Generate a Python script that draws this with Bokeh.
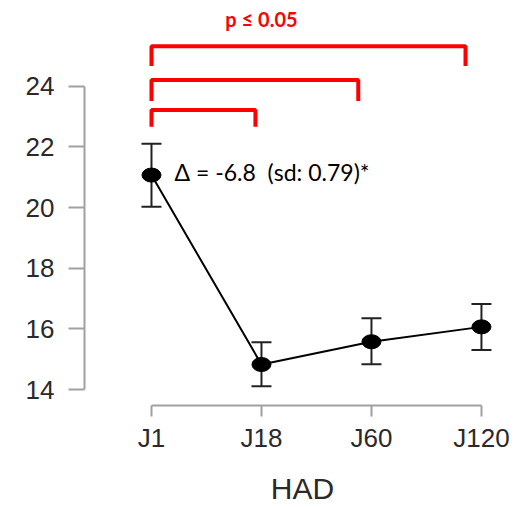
from bokeh.plotting import figure
from bokeh.models import Range1d, ColumnDataSource, Whisker, TeeHead, FixedTicker, Label
from bokeh.embed import file_html
from bokeh.resources import INLINE

# Data
days = ["J1", "J18", "J60", "J120"]
means = [21.07, 14.83, 15.58, 16.07]
lower = [20.03, 14.11, 14.84, 15.31]
upper = [22.10, 15.56, 16.35, 16.82]
y_ticks = [14, 16, 18, 20, 22, 24]
annotation = "Δ = -6.8 \u00a0(sd: 0.79)*"
sig_label = "p ≤ 0.05"
# significance brackets: (start index, end index)
brackets = [(0, 1), (0, 2), (0, 3)]

xpos = list(range(len(days)))
src = ColumnDataSource(dict(x=xpos, y=means, lo=lower, hi=upper))

p = figure(width=520, height=507, output_backend="svg", toolbar_location=None,
           x_range=Range1d(-0.609, 3.355), y_range=Range1d(13.48, 26.82),
           min_border_left=84, min_border_bottom=100, min_border_top=0, min_border_right=0)
p.outline_line_color = None
p.grid.visible = False
p.background_fill_color = "white"
p.border_fill_color = "white"

axis_col = "#a0a0a0"
txt_col = "#2a2a2a"
axis_font = "Liberation Sans"

# x axis
xa = p.xaxis[0]
xa.ticker = FixedTicker(ticks=xpos)
xa.major_label_overrides = {i: d for i, d in enumerate(days)}
xa.bounds = (0, len(days) - 1)
xa.axis_line_color = axis_col
xa.axis_line_width = 2
xa.major_tick_line_color = axis_col
xa.major_tick_line_width = 2
xa.major_tick_out = 11
xa.major_tick_in = 0
xa.minor_tick_line_color = None
xa.major_label_standoff = 6
xa.major_label_text_font = axis_font
xa.major_label_text_font_size = "26px"
xa.major_label_text_color = txt_col
xa.axis_label = "HAD"
xa.axis_label_text_font = axis_font
xa.axis_label_text_font_size = "30px"
xa.axis_label_text_font_style = "normal"
xa.axis_label_text_color = txt_col
xa.axis_label_standoff = 16

# y axis
ya = p.yaxis[0]
ya.ticker = FixedTicker(ticks=y_ticks)
ya.bounds = (min(y_ticks), max(y_ticks))
ya.axis_line_color = axis_col
ya.axis_line_width = 2
ya.major_tick_line_color = axis_col
ya.major_tick_line_width = 2
ya.major_tick_out = 16
ya.major_tick_in = 0
ya.minor_tick_line_color = None
ya.major_label_standoff = 14
ya.major_label_text_font = axis_font
ya.major_label_text_font_size = "26px"
ya.major_label_text_color = txt_col

# error bars
w = Whisker(base="x", lower="lo", upper="hi", source=src,
            line_color="#222222", line_width=2,
            upper_head=TeeHead(size=20, line_color="#222222", line_width=2),
            lower_head=TeeHead(size=20, line_color="#222222", line_width=2))
p.add_layout(w)

p.line("x", "y", source=src, line_color="black", line_width=2)
p.ellipse("x", "y", width=19, height=14, width_units="screen", height_units="screen",
          source=src, fill_color="black", line_color="black")

# brackets
bracket_levels = [(23.21, 22.66), (24.20, 23.51), (25.31, 24.66)]
bracket_ends = [0.945, 1.88, 2.855]
for (a, b), (top, bot), xe in zip(brackets, bracket_levels, bracket_ends):
    p.line([xpos[a], xpos[a], xe, xe], [bot, top, top, bot],
           line_color="#ff0000", line_width=4)

p.add_layout(Label(x=1.0, y=26.2, text=sig_label, text_color="#ff0000",
                   text_font="Lato", text_font_style="bold", text_font_size="20px",
                   text_align="center", text_baseline="middle"))
p.add_layout(Label(x=0.209, y=21.18, text=annotation, text_color="black",
                   text_font="Lato", text_font_size="23px",
                   text_align="left", text_baseline="middle"))

open("out.html", "w").write(file_html(p, INLINE))
